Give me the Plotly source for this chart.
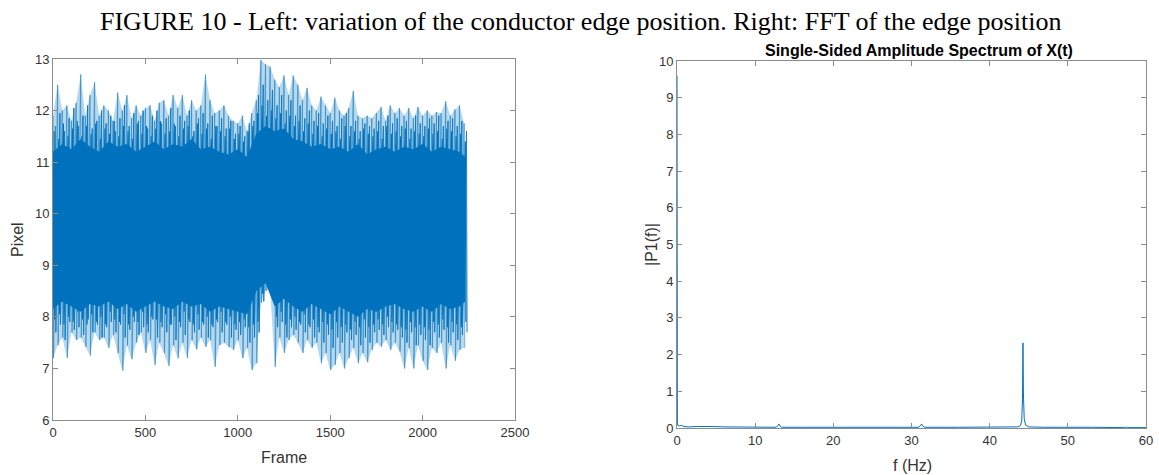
import plotly.graph_objects as go

# ---------------- data ----------------
# Left panel: edge position vs frame; extreme peaks read every 25 frames
frames_env = list(range(0, 2250, 25))  # 0 .. 2225
upper_peak = [11.9, 12.5, 12.0, 12.1, 11.8, 12.15, 12.7, 11.9, 12.3, 12.55,
              11.9, 12.1, 12.0, 11.8, 12.35, 12.0, 12.3, 11.85, 12.1, 11.9,
              12.05, 12.1, 11.8, 12.15, 12.2, 11.9, 12.3, 12.05, 12.3, 11.9,
              12.2, 12.0, 12.1, 12.7, 12.2, 11.95, 12.0, 12.1, 11.9, 11.8,
              11.75, 11.9, 11.6, 11.95, 12.2, 12.98, 12.9, 12.85, 12.6, 12.45,
              12.68, 12.3, 12.68, 12.5, 12.2, 12.44, 12.1, 12.0, 12.27, 12.1,
              11.95, 12.25, 12.0, 11.9, 12.05, 12.38, 11.9, 11.85, 11.9, 11.85,
              11.95, 12.07, 11.8, 12.1, 11.95, 12.05, 11.9, 12.05, 11.85, 12.07,
              11.9, 12.0, 11.9, 11.97, 11.95, 12.18, 11.9, 12.02, 12.1, 11.75]
lower_peak = [7.2, 7.45, 7.6, 7.2, 7.7, 7.55, 7.6, 7.42, 7.25, 7.7,
              7.55, 7.6, 7.4, 7.65, 7.3, 6.96, 7.45, 7.18, 7.5, 7.7,
              7.3, 7.55, 7.07, 7.5, 7.3, 7.05, 7.45, 7.2, 7.5, 7.2,
              7.55, 7.37, 7.6, 7.42, 7.55, 7.03, 7.45, 7.5, 7.42, 7.36,
              7.55, 7.2, 7.4, 6.97, 7.1, 8.27, 8.5, 8.55, 7.03, 7.6,
              7.3, 7.55, 7.65, 7.5, 7.3, 7.55, 7.4, 7.5, 7.1, 7.3,
              6.97, 7.07, 7.3, 7.0, 7.2, 7.4, 7.1, 7.3, 7.12, 7.36,
              7.5, 7.42, 7.55, 7.36, 7.5, 7.33, 7.0, 7.4, 7.0, 7.45,
              7.15, 6.97, 7.4, 7.3, 7.5, 7.0, 7.45, 7.15, 7.36, 7.4]

# secondary peaks, between the extreme ones (frames 12.5 + 25*i)
frames_env2 = [f + 12.5 for f in frames_env]
upper_peak2 = [11.7, 11.95, 11.6, 11.85, 12.05, 11.7, 11.9, 12.1, 11.65, 11.8,
               12.0, 11.75, 11.9, 11.6, 11.85, 12.1, 11.7, 11.95, 11.8, 12.0,
               11.65, 11.9, 12.0, 11.75, 11.85, 12.05, 11.7, 11.9, 11.8, 12.0,
               11.6, 11.85, 11.95, 11.75, 11.9, 11.7, 11.85, 11.65, 11.8, 11.55,
               11.7, 11.5, 11.75, 11.8, 12.3, 12.5, 12.2, 12.4, 12.1, 12.3,
               12.0, 12.2, 11.9, 12.1, 11.85, 12.0, 11.8, 11.95, 11.75, 11.9,
               11.8, 11.7, 11.85, 11.95, 11.7, 11.8, 11.6, 11.75, 11.7, 11.65,
               11.8, 11.7, 11.9, 11.75, 11.85, 11.7, 11.8, 11.65, 11.9, 11.75,
               11.7, 11.85, 11.75, 11.9, 11.7, 11.8, 11.85, 11.7, 11.8, 11.6]
lower_peak2 = [7.7, 7.85, 7.55, 7.9, 7.75, 7.8, 7.65, 7.95, 7.7, 7.85,
               7.6, 7.8, 7.9, 7.7, 7.85, 7.6, 7.75, 7.9, 7.65, 7.8,
               7.7, 7.95, 7.6, 7.8, 7.7, 7.85, 7.55, 7.8, 7.65, 7.9,
               7.7, 7.75, 7.85, 7.6, 7.8, 7.9, 7.7, 7.85, 7.6, 7.75,
               7.65, 7.8, 7.5, 7.6, 7.7, 8.3, 8.6, 8.4, 7.8, 7.9,
               7.6, 7.8, 7.75, 7.85, 7.7, 7.8, 7.6, 7.7, 7.5, 7.65,
               7.4, 7.6, 7.5, 7.7, 7.55, 7.65, 7.45, 7.6, 7.5, 7.7,
               7.75, 7.65, 7.8, 7.7, 7.75, 7.6, 7.5, 7.7, 7.45, 7.65,
               7.55, 7.45, 7.7, 7.6, 7.75, 7.5, 7.7, 7.55, 7.65, 7.7]

# tertiary (dense, near the core) peaks (frames 6.25 + 25*i)
frames_env3 = [f + 6.25 for f in frames_env]
upper_peak3 = [11.6, 11.45, 11.75, 11.5, 11.65, 11.8, 11.5, 11.7, 11.55, 11.75,
               11.45, 11.65, 11.55, 11.8, 11.5, 11.7, 11.6, 11.45, 11.75, 11.55,
               11.7, 11.5, 11.65, 11.8, 11.55, 11.6, 11.75, 11.5, 11.65, 11.7,
               11.5, 11.75, 11.55, 11.65, 11.45, 11.7, 11.6, 11.5, 11.65, 11.45,
               11.55, 11.4, 11.6, 11.7, 11.95, 12.1, 11.9, 12.0, 11.85, 11.95,
               11.75, 11.9, 11.7, 11.8, 11.6, 11.75, 11.55, 11.7, 11.5, 11.65,
               11.55, 11.6, 11.45, 11.7, 11.5, 11.6, 11.45, 11.65, 11.55, 11.5,
               11.6, 11.45, 11.7, 11.55, 11.6, 11.5, 11.65, 11.45, 11.6, 11.55,
               11.5, 11.65, 11.55, 11.6, 11.45, 11.65, 11.6, 11.5, 11.55, 11.4]
lower_peak3 = [7.95, 8.05, 7.85, 8.0, 7.9, 8.1, 7.95, 7.85, 8.05, 7.9,
               8.0, 7.85, 8.1, 7.95, 7.9, 8.05, 7.85, 8.0, 7.9, 8.1,
               7.85, 8.0, 7.95, 7.9, 8.05, 7.85, 8.0, 7.9, 8.1, 7.95,
               7.85, 8.05, 7.9, 8.0, 7.85, 7.95, 8.1, 7.9, 8.0, 7.85,
               7.9, 7.95, 7.8, 7.85, 7.9, 8.45, 8.7, 8.55, 8.0, 8.1,
               7.85, 7.95, 8.0, 7.9, 8.05, 7.85, 7.95, 7.8, 7.9, 7.85,
               7.75, 7.9, 7.8, 7.85, 7.75, 7.9, 7.8, 7.95, 7.8, 7.85,
               7.95, 7.85, 8.0, 7.9, 7.85, 7.8, 7.75, 7.9, 7.8, 7.85,
               7.8, 7.75, 7.9, 7.85, 7.95, 7.8, 7.9, 7.85, 7.8, 7.9]

# dense (solid) core of the signal, read every 50 frames
frames_core = list(range(0, 2250, 50)) + [2230]
core_upper = [11.2, 11.35, 11.25, 11.45, 11.3, 11.2, 11.4, 11.3, 11.35, 11.2,
              11.3, 11.4, 11.25, 11.35, 11.3, 11.45, 11.25, 11.3, 11.2, 11.15,
              11.25, 11.1, 11.55, 11.7, 11.6, 11.65, 11.45, 11.4, 11.3, 11.35,
              11.25, 11.3, 11.2, 11.35, 11.15, 11.25, 11.3, 11.2, 11.3, 11.25,
              11.35, 11.2, 11.3, 11.25, 11.2, 11.1]
core_lower = [8.15, 8.3, 8.2, 8.1, 8.25, 8.2, 8.3, 8.15, 8.25, 8.1,
              8.2, 8.3, 8.2, 8.15, 8.3, 8.2, 8.25, 8.1, 8.2, 8.15,
              8.1, 8.05, 8.5, 8.65, 8.2, 8.35, 8.2, 8.1, 8.25, 8.15,
              8.05, 8.2, 8.1, 8.0, 8.15, 8.1, 8.2, 8.25, 8.15, 8.1,
              8.2, 8.1, 8.25, 8.15, 8.2, 8.3]

# Right panel: single-sided amplitude spectrum
freq_hz = [0, 0.05, 0.3, 0.6, 0.9, 1.5, 2.5, 3.5, 4.5, 6, 7, 8.5, 10,
           12.7, 12.95, 13.05, 13.15, 13.4, 16, 18.1, 18.25, 18.4, 22, 26, 30.9,
           31.2, 31.3, 31.4, 31.7, 36, 40, 43.6, 43.95, 44.1, 44.2, 44.26, 44.32,
           44.42, 44.6, 45.0, 47, 49.6, 49.75, 49.9, 53, 57.3, 57.45, 57.6, 60]
amp_p1 = [9.6, 0.08, 0.06, 0.07, 0.04, 0.03, 0.04, 0.03, 0.04, 0.03, 0.03, 0.02, 0.03,
          0.02, 0.08, 0.11, 0.06, 0.02, 0.02, 0.02, 0.04, 0.02, 0.02, 0.02, 0.02,
          0.08, 0.11, 0.06, 0.02, 0.02, 0.02, 0.03, 0.07, 0.2, 0.8, 2.32, 0.9,
          0.25, 0.08, 0.03, 0.02, 0.02, 0.04, 0.02, 0.02, 0.01, 0.03, 0.01, 0.01]

# ---------------- styling ----------------
BLUE = "#0072BD"
AX_COLOR = "#8c8c8c"
TICK_FONT = dict(family="Liberation Sans, Arial, sans-serif", size=13, color="#333333")
LAB_FONT = dict(family="Liberation Sans, Arial, sans-serif", size=16, color="#333333")

W, H = 1159, 475


def px_x(p):
    return p / W


def px_y(p):
    return 1 - p / H


fig = go.Figure()

# outer envelope (light fringe)
fig.add_trace(go.Scatter(x=frames_env, y=upper_peak, mode="lines",
                         line=dict(width=0, color=BLUE), hoverinfo="skip",
                         showlegend=False, xaxis="x", yaxis="y"))
fig.add_trace(go.Scatter(x=frames_env, y=lower_peak, mode="lines",
                         line=dict(width=0, color=BLUE), fill="tonexty",
                         fillcolor="rgba(0,114,189,0.28)", hoverinfo="skip",
                         showlegend=False, xaxis="x", yaxis="y"))


def zigzag(xs, ups, lows, half):
    zx, zy = [], []
    for f, u, l in zip(xs, ups, lows):
        zx += [f, f + half]
        zy += [u, l]
    return zx, zy


# zig-zag strokes between the peaks (the noisy signal look)
for xs, ups, lows, op, wd in [(frames_env, upper_peak, lower_peak, 0.7, 0.8),
                              (frames_env2, upper_peak2, lower_peak2, 0.9, 1.0),
                              (frames_env3, upper_peak3, lower_peak3, 1.0, 1.2)]:
    zx, zy = zigzag(xs, ups, lows, 3.0)
    fig.add_trace(go.Scatter(x=zx, y=zy, mode="lines",
                             line=dict(width=wd, color=BLUE), opacity=op,
                             hoverinfo="skip", showlegend=False, xaxis="x", yaxis="y"))

# solid core
fig.add_trace(go.Scatter(x=frames_core, y=core_upper, mode="lines",
                         line=dict(width=0, color=BLUE), hoverinfo="skip",
                         showlegend=False, xaxis="x", yaxis="y"))
fig.add_trace(go.Scatter(x=frames_core, y=core_lower, mode="lines",
                         line=dict(width=0, color=BLUE), fill="tonexty",
                         fillcolor=BLUE, hoverinfo="skip",
                         showlegend=False, xaxis="x", yaxis="y"))

# spectrum
fig.add_trace(go.Scatter(x=freq_hz, y=amp_p1, mode="lines",
                         line=dict(width=1, color=BLUE), showlegend=False,
                         xaxis="x2", yaxis="y2"))

axis_common = dict(showgrid=False, zeroline=False, showline=True, linecolor=AX_COLOR,
                   linewidth=1, mirror="ticks", ticks="inside", ticklen=5,
                   tickcolor=AX_COLOR, tickfont=TICK_FONT, automargin=False)

fig.update_layout(
    width=W, height=H,
    margin=dict(l=0, r=0, t=0, b=0, pad=0),
    paper_bgcolor="white", plot_bgcolor="white",
    xaxis=dict(domain=[px_x(53), px_x(515)], range=[0, 2500], tickmode="array",
               tickvals=[0, 500, 1000, 1500, 2000, 2500], anchor="y",
               **axis_common),
    yaxis=dict(domain=[px_y(420), px_y(59)], range=[6, 13], tickmode="array",
               tickvals=[6, 7, 8, 9, 10, 11, 12, 13], anchor="x",
               **axis_common),
    xaxis2=dict(domain=[px_x(677), px_x(1146)], range=[0, 60], tickmode="array",
                tickvals=[0, 10, 20, 30, 40, 50, 60], anchor="y2",
                **axis_common),
    yaxis2=dict(domain=[px_y(428), px_y(61)], range=[0, 10], tickmode="array",
                tickvals=list(range(0, 11)), anchor="x2",
                **axis_common),
    annotations=[
        dict(text="FIGURE 10 - Left: variation of the conductor edge position. Right: FFT of the edge position",
             x=px_x(580), y=px_y(22), xref="paper", yref="paper", showarrow=False,
             xanchor="center", yanchor="middle",
             font=dict(family="Liberation Serif, Times New Roman, serif", size=26, color="black")),
        dict(text="<b>Single-Sided Amplitude Spectrum of X(t)</b>",
             x=px_x(919), y=px_y(50), xref="paper", yref="paper", showarrow=False,
             xanchor="center", yanchor="middle",
             font=dict(family="Liberation Sans, Arial, sans-serif", size=16, color="black")),
        dict(text="Pixel", x=px_x(17), y=px_y(240), xref="paper", yref="paper",
             showarrow=False, textangle=-90, xanchor="center", yanchor="middle",
             font=LAB_FONT),
        dict(text="Frame", x=px_x(284), y=px_y(457), xref="paper", yref="paper",
             showarrow=False, xanchor="center", yanchor="middle", font=LAB_FONT),
        dict(text="|P1(f)|", x=px_x(651), y=px_y(245), xref="paper", yref="paper",
             showarrow=False, textangle=-90, xanchor="center", yanchor="middle",
             font=LAB_FONT),
        dict(text="f (Hz)", x=px_x(912), y=px_y(465), xref="paper", yref="paper",
             showarrow=False, xanchor="center", yanchor="middle", font=LAB_FONT),
    ],
)

# remove the page's default 8px body margin so the figure sits at (0, 0)
fig.write_html("out.html", config={"displayModeBar": False},
               post_script="document.body.style.margin='0';document.body.style.overflow='hidden';")
